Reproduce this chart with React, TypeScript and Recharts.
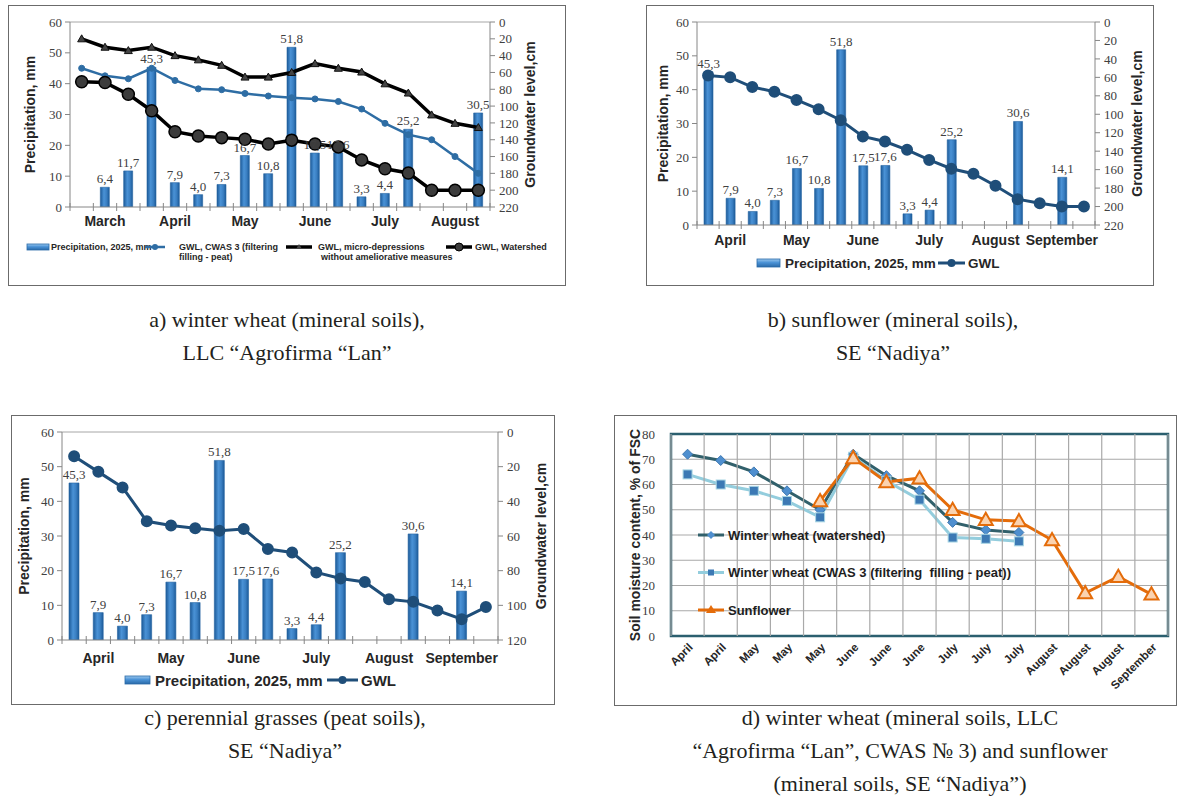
import React from 'react';
import {
  ComposedChart,
  LineChart,
  Bar,
  Line,
  XAxis,
  YAxis,
  ReferenceLine,
  ReferenceArea,
  LabelList,
  CartesianGrid,
  Legend,
} from 'recharts';

const SERIF = '"Liberation Serif", "Times New Roman", serif';
const SANS = '"Liberation Sans", Arial, sans-serif';

// ---------- Panel a: winter wheat, LLC "Agrofirma "Lan" ----------
const monthsA = ['', 'March', '', '', 'April', '', '', 'May', '', '', 'June', '', '', 'July', '', '', 'August', ''];
const precipA = [null, 6.4, 11.7, 45.3, 7.9, 4.0, 7.3, 16.7, 10.8, 51.8, 17.5, 17.6, 3.3, 4.4, 25.2, null, null, 30.5];
const gwlCwasA = [55, 64, 67.5, 55, 69.5, 79.5, 80.5, 85, 88, 90, 91.5, 94.5, 103.5, 120.5, 134, 140, 160, 180];
const gwlMicroA = [20, 30, 34, 30, 40, 45, 51.5, 65.5, 65.5, 60, 49.5, 55, 59.5, 73.5, 84.5, 110.5, 120.5, 125.5];
const gwlWatershedA = [71, 72, 86, 105.5, 130.5, 135.5, 137.5, 139.5, 145, 140.5, 145, 148.5, 164, 174.5, 179.5, 200, 200, 200];
const gwlTicksA = [0, 20, 40, 60, 80, 100, 120, 140, 160, 180, 200, 220];
const precipTicks = [0, 10, 20, 30, 40, 50, 60];

// ---------- Panel b: sunflower, SE "Nadiya" ----------
const monthsB = ['', 'April', '', '', 'May', '', '', 'June', '', '', 'July', '', '', 'August', '', '', 'September', ''];
const precipB = [45.3, 7.9, 4.0, 7.3, 16.7, 10.8, 51.8, 17.5, 17.6, 3.3, 4.4, 25.2, null, null, 30.6, null, 14.1, null];
const gwlB = [58, 60, 70.5, 75.5, 84.5, 94.5, 106.5, 124, 129.5, 138.5, 149.5, 159, 164.5, 177.5, 192, 196.5, 200, 200];
const gwlTicksB = [0, 20, 40, 60, 80, 100, 120, 140, 160, 180, 200, 220];

// ---------- Panel c: perennial grasses, SE "Nadiya" ----------
const monthsC = ['', 'April', '', '', 'May', '', '', 'June', '', '', 'July', '', '', 'August', '', '', 'September', ''];
const precipC = [45.3, 7.9, 4.0, 7.3, 16.7, 10.8, 51.8, 17.5, 17.6, 3.3, 4.4, 25.2, null, null, 30.6, null, 14.1, null];
const gwlC = [14, 23, 32, 51.5, 54, 55.5, 57, 56, 67.5, 69.5, 81, 84.5, 86.5, 96.5, 98, 103, 108, 101];
const gwlTicksC = [0, 20, 40, 60, 80, 100, 120];

// ---------- Panel d: soil moisture ----------
const periodsD = ['April', 'April', 'May', 'May', 'May', 'June', 'June', 'June', 'July', 'July', 'July', 'August', 'August', 'August', 'September'];
const wheatWatershedD = [72, 69.5, 65, 57.5, 50, 72, 63.5, 57.5, 45, 42, 41, null, null, null, null];
const wheatCwasD = [64, 60, 57.5, 53.5, 47, 71, 61.5, 54, 39, 38.5, 37.5, null, null, null, null];
const sunflowerD = [null, null, null, null, 53.5, 70.5, 61, 62.5, 50, 46, 45.5, 38, 17, 23.5, 16.5];
const moistureTicks = [0, 10, 20, 30, 40, 50, 60, 70, 80];

const rowsA = monthsA.map((m, i) => ({ k: i, p: precipA[i], cwas: gwlCwasA[i], micro: gwlMicroA[i], ws: gwlWatershedA[i] }));
const rowsB = monthsB.map((m, i) => ({ k: i, p: precipB[i], gwl: gwlB[i] }));
const rowsC = monthsC.map((m, i) => ({ k: i, p: precipC[i], gwl: gwlC[i] }));
const rowsD = periodsD.map((m, i) => ({ k: i, ww: wheatWatershedD[i], wc: wheatCwasD[i], sf: sunflowerD[i] }));

const fmt = (v: any) => (v == null ? '' : Number(v).toFixed(1).replace('.', ','));

const AXIS = '#868686';

function MonthTick(props: any) {
  const { x, y, payload, labels, band, fontSize, dy } = props;
  const i = Number(payload.value);
  const n = labels.length;
  const lbl = labels[i];
  return (
    <g>
      <line x1={x - band / 2} x2={x - band / 2} y1={y - 4} y2={y + 4} stroke={AXIS} />
      {i === n - 1 ? <line x1={x + band / 2} x2={x + band / 2} y1={y - 4} y2={y + 4} stroke={AXIS} /> : null}
      {lbl ? (
        <text x={x} y={y + dy} textAnchor="middle" dominantBaseline="central" fontFamily={SANS} fontWeight="bold" fontSize={fontSize} fill="#262626">
          {lbl}
        </text>
      ) : null}
    </g>
  );
}

function VTitle(props: any) {
  const vb = props.viewBox || { x: 0, y: 0, width: 0, height: 0 };
  const cx = vb.x + props.dx;
  const cy = vb.y + vb.height / 2;
  return (
    <text x={cx} y={cy} transform={`rotate(-90 ${cx} ${cy})`} textAnchor="middle" dominantBaseline="central" fontFamily={SANS} fontWeight="bold" fontSize={props.fontSize} fill="#262626">
      {props.text}
    </text>
  );
}

function Box({ x, y, w, h }: any) {
  return <div style={{ position: 'absolute', left: x, top: y, width: w, height: h, border: '1.5px solid #6b6b6b', boxSizing: 'border-box' }} />;
}

function BarGrad({ id }: any) {
  return (
    <defs>
      <linearGradient id={id} x1="0" y1="0" x2="1" y2="0">
        <stop offset="0%" stopColor="#1c5a98" />
        <stop offset="40%" stopColor="#4a92d6" />
        <stop offset="70%" stopColor="#3a7fc2" />
        <stop offset="100%" stopColor="#1c5a98" />
      </linearGradient>
    </defs>
  );
}

function triDot(size: number, fill: string, stroke: string, sw: number) {
  return (props: any) => {
    const { cx, cy, index } = props;
    if (cx == null || cy == null || isNaN(cy)) return <g key={`t${index}`} />;
    return (
      <polygon
        key={`t${index}`}
        points={`${cx},${cy - size} ${cx + size},${cy + size * 0.75} ${cx - size},${cy + size * 0.75}`}
        fill={fill}
        stroke={stroke}
        strokeWidth={sw}
      />
    );
  };
}

function diamondDot(props: any) {
  const { cx, cy, index } = props;
  if (cx == null || cy == null || isNaN(cy)) return <g key={`d${index}`} />;
  return <polygon key={`d${index}`} points={`${cx},${cy - 5} ${cx + 5},${cy} ${cx},${cy + 5} ${cx - 5},${cy}`} fill="#4f8fcf" stroke="#3d77b0" strokeWidth={1} />;
}

function squareDot(props: any) {
  const { cx, cy, index } = props;
  if (cx == null || cy == null || isNaN(cy)) return <g key={`s${index}`} />;
  return <rect key={`s${index}`} x={cx - 4.5} y={cy - 4.5} width={9} height={9} fill="#3c79b4" stroke="#a8d6e4" strokeWidth={1} />;
}

function PrecipPanel(p: any) {
  const { box, plot, rows, labels, gwlTicks, gwlMax, monthFont, monthDy, gid, leftDx, rightDx, legend, legendTop } = p;
  const W = box.w;
  const H = box.h;
  const plotW = W - plot.l - plot.r;
  const band = plotW / labels.length;
  const XH = 30;
  return (
    <>
      <Box x={box.x} y={box.y} w={box.w} h={box.h} />
      <div style={{ position: 'absolute', left: box.x, top: box.y, width: W, height: H }}>
        <ComposedChart width={W} height={H} data={rows} margin={{ top: plot.t, right: 0, left: 0, bottom: plot.b - XH }} barCategoryGap={0}>
          <BarGrad id={gid} />
          <XAxis
            dataKey="k"
            type="category"
            height={XH}
            interval={0}
            tickSize={0}
            tickMargin={0}
            axisLine={{ stroke: AXIS }}
            tickLine={false}
            tick={(tp: any) => <MonthTick {...tp} labels={labels} band={band} fontSize={monthFont} dy={monthDy} />}
          />
          <YAxis
            yAxisId="l"
            width={plot.l}
            domain={[0, 60]}
            ticks={precipTicks}
            interval={0}
            allowDataOverflow
            axisLine={{ stroke: AXIS }}
            tickLine={{ stroke: AXIS }}
            tickSize={5}
            tickMargin={3}
            tick={{ fontFamily: SERIF, fontSize: 13, fill: '#404040' }}
            label={<VTitle dx={leftDx} text="Precipitation, mm" fontSize={14} />}
          />
          <YAxis
            yAxisId="r"
            orientation="right"
            width={plot.r}
            reversed
            domain={[0, gwlMax]}
            ticks={gwlTicks}
            interval={0}
            allowDataOverflow
            axisLine={{ stroke: AXIS }}
            tickLine={{ stroke: AXIS }}
            tickSize={5}
            tickMargin={4}
            tick={{ fontFamily: SERIF, fontSize: 13, fill: '#404040' }}
            label={<VTitle dx={rightDx} text="Groundwater level,cm" fontSize={14} />}
          />
          <ReferenceLine yAxisId="l" y={60} stroke="#a6a6a6" strokeWidth={1} />
          <Bar yAxisId="l" dataKey="p" barSize={p.barSize} fill={`url(#${gid})`} stroke="#2564a3" strokeWidth={0.6} isAnimationActive={false}>
            <LabelList dataKey="p" position="top" offset={4} formatter={fmt} style={{ fontFamily: SERIF, fontSize: 13, fill: '#404040' }} />
          </Bar>
          {p.children}
          <Legend
            layout="vertical"
            align="center"
            verticalAlign="middle"
            wrapperStyle={{ position: 'absolute', left: 0, top: legendTop, width: W, height: 30 }}
            content={() => legend}
          />
        </ComposedChart>
      </div>
    </>
  );
}

function LegendA() {
  const ty = 10;
  const t2 = 20;
  const ts = { fontFamily: SANS, fontWeight: 'bold' as const, fontSize: 9, fill: '#262626' };
  return (
    <svg width={558} height={30} style={{ display: 'block' }}>
      <defs>
        <linearGradient id="gAvL" x1="0" y1="0" x2="0" y2="1">
          <stop offset="0%" stopColor="#9cc8ee" />
          <stop offset="45%" stopColor="#4a92d6" />
          <stop offset="100%" stopColor="#2a6aa8" />
        </linearGradient>
      </defs>
      <rect x={19} y={ty - 3} width={22} height={6} fill="url(#gAvL)" stroke="#2a6aa8" strokeWidth={0.8} />
      <text x={43} y={ty} dominantBaseline="central" {...ts}>Precipitation, 2025, mm</text>
      <line x1={137} x2={157} y1={ty} y2={ty} stroke="#2e6da4" strokeWidth={2.5} />
      <circle cx={147} cy={ty} r={3} fill="#2e6da4" />
      <text x={171} y={ty} dominantBaseline="central" {...ts}>GWL, CWAS 3 (filtering</text>
      <text x={171} y={t2} dominantBaseline="central" {...ts}>filling - peat)</text>
      <line x1={278} x2={304} y1={ty} y2={ty} stroke="#000" strokeWidth={3.5} />
      <polygon points={`291,${ty - 3} 294,${ty + 2} 288,${ty + 2}`} fill="#444" />
      <text x={310} y={ty} dominantBaseline="central" {...ts}>GWL, micro-depressions</text>
      <text x={313} y={t2} dominantBaseline="central" {...ts}>without ameliorative measures</text>
      <line x1={438} x2={464} y1={ty} y2={ty} stroke="#000" strokeWidth={3.5} />
      <circle cx={451} cy={ty} r={4} fill="#3c3c3c" stroke="#000" />
      <text x={467} y={ty} dominantBaseline="central" {...ts}>GWL, Watershed</text>
    </svg>
  );
}

function LegendBC({ W, iconX, textX, gwlX, gwlTextX, fontSize, gid }: any) {
  const ty = 13;
  const ts = { fontFamily: SANS, fontWeight: 'bold' as const, fontSize, fill: '#262626' };
  return (
    <svg width={W} height={30} style={{ display: 'block' }}>
      <defs>
        <linearGradient id={gid} x1="0" y1="0" x2="0" y2="1">
          <stop offset="0%" stopColor="#9cc8ee" />
          <stop offset="45%" stopColor="#4a92d6" />
          <stop offset="100%" stopColor="#2a6aa8" />
        </linearGradient>
      </defs>
      <rect x={iconX} y={ty - 4} width={textX - iconX - 5} height={8} fill={`url(#${gid})`} stroke="#2a6aa8" strokeWidth={0.8} />
      <text x={textX} y={ty} dominantBaseline="central" {...ts}>Precipitation, 2025, mm</text>
      <line x1={gwlX} x2={gwlTextX - 3} y1={ty} y2={ty} stroke="#1f4e79" strokeWidth={3} />
      <circle cx={(gwlX + gwlTextX - 3) / 2} cy={ty} r={4} fill="#1f4e79" />
      <text x={gwlTextX} y={ty} dominantBaseline="central" {...ts}>GWL</text>
    </svg>
  );
}

function LegendD() {
  const ts = { fontFamily: SANS, fontWeight: 'bold' as const, fontSize: 13, fill: '#1e1e1e' };
  const ys = [120, 157.5, 195];
  return (
    <svg width={420} height={215} style={{ display: 'block' }}>
      <line x1={84} x2={110} y1={ys[0]} y2={ys[0]} stroke="#31606b" strokeWidth={3} />
      <polygon points={`97,${ys[0] - 4} 101,${ys[0]} 97,${ys[0] + 4} 93,${ys[0]}`} fill="#4f8fcf" />
      <text x={114} y={ys[0]} dominantBaseline="central" {...ts}>Winter wheat (watershed)</text>
      <line x1={84} x2={110} y1={ys[1]} y2={ys[1]} stroke="#93cddd" strokeWidth={3} />
      <rect x={94} y={ys[1] - 3} width={6} height={6} fill="#3c79b4" />
      <text x={114} y={ys[1]} dominantBaseline="central" {...ts} style={{ whiteSpace: 'pre' }}>{'Winter wheat (CWAS 3 (filtering  filling - peat))'}</text>
      <line x1={84} x2={110} y1={ys[2]} y2={ys[2]} stroke="#e46c0a" strokeWidth={3} />
      <polygon points={`97,${ys[2] - 5} 102,${ys[2] + 3} 92,${ys[2] + 3}`} fill="#e46c0a" />
      <text x={114} y={ys[2]} dominantBaseline="central" {...ts}>Sunflower</text>
    </svg>
  );
}

const boxD = { x: 614, y: 415, w: 563, h: 291 };
const plotD = { l: 57, r: 9, t: 19, b: 70 };
const plotHD = boxD.h - plotD.t - plotD.b;
const bandD = (boxD.w - plotD.l - plotD.r) / periodsD.length;

// x tick for panel d: rotated label plus vertical grid line on the category boundary
function RotTick(props: any) {
  const { x, y, payload } = props;
  const i = Number(payload.value);
  const ax = x + 6;
  const ay = y + 12;
  return (
    <g>
      <line x1={x - bandD / 2} x2={x - bandD / 2} y1={y} y2={y - plotHD} stroke="#a9a9a9" strokeWidth={1.2} />
      {i === periodsD.length - 1 ? <line x1={x + bandD / 2} x2={x + bandD / 2} y1={y} y2={y - plotHD} stroke="#a9a9a9" strokeWidth={1.2} /> : null}
      <text x={ax} y={ay} transform={`rotate(-45 ${ax} ${ay})`} textAnchor="end" fontFamily={SANS} fontWeight="bold" fontSize={11.5} fill="#262626">
        {periodsD[i]}
      </text>
    </g>
  );
}

function PanelD() {
  const box = boxD;
  const plot = plotD;
  const XH = 40;
  return (
    <>
      <Box x={box.x} y={box.y} w={box.w} h={box.h} />
      <div style={{ position: 'absolute', left: box.x, top: box.y, width: box.w, height: box.h, overflow: 'visible' }}>
        <LineChart width={box.w} height={box.h} data={rowsD} margin={{ top: plot.t, right: plot.r, left: 0, bottom: plot.b - XH }} style={{ overflow: 'visible' }}>
          <CartesianGrid stroke="#a9a9a9" strokeWidth={1.2} vertical={false} />
          <XAxis
            dataKey="k"
            type="category"
            scale="band"
            height={XH}
            interval={0}
            tickSize={0}
            tickMargin={0}
            axisLine={false}
            tickLine={false}
            tick={(tp: any) => <RotTick {...tp} />}
          />
          <YAxis
            width={plot.l}
            domain={[0, 80]}
            ticks={moistureTicks}
            interval={0}
            axisLine={false}
            tickLine={false}
            tickMargin={10}
            tick={{ fontFamily: SERIF, fontSize: 13, fill: '#404040' }}
            label={<VTitle dx={21} text="Soil moisture content, % of FSC" fontSize={14} />}
          />
          <ReferenceArea y1={0} y2={80} fill="none" stroke="#2b5f6f" strokeWidth={2.5} ifOverflow="visible" />
          <Line dataKey="ww" stroke="#31606b" strokeWidth={3} dot={diamondDot} isAnimationActive={false} />
          <Line dataKey="wc" stroke="#93cddd" strokeWidth={3} dot={squareDot} isAnimationActive={false} />
          <Line dataKey="sf" stroke="#e46c0a" strokeWidth={3} dot={triDot(7, '#fbd3b0', '#e46c0a', 2)} isAnimationActive={false} />
          <Legend
            layout="vertical"
            align="center"
            verticalAlign="middle"
            wrapperStyle={{ position: 'absolute', left: 0, top: 0, width: 420, height: 215 }}
            content={() => <LegendD />}
          />
        </LineChart>
      </div>
    </>
  );
}

const capStyle: React.CSSProperties = {
  position: 'absolute',
  textAlign: 'center',
  fontFamily: SERIF,
  fontSize: 22,
  lineHeight: '33px',
  color: '#231f20',
  whiteSpace: 'nowrap',
};

export default function App() {
  return (
    <div style={{ position: 'absolute', left: 0, top: 0, width: 1179, height: 798, background: '#fff', overflow: 'hidden' }}>
      <PrecipPanel
        box={{ x: 8, y: 5, w: 558, h: 281 }}
        plot={{ l: 62, r: 76, t: 17, b: 79 }}
        rows={rowsA}
        labels={monthsA}
        gwlTicks={gwlTicksA}
        gwlMax={220}
        monthFont={14}
        monthDy={14}
        gid="gA"
        leftDx={22}
        rightDx={40}
        barSize={9}
        legendTop={232}
        legend={<LegendA />}
      >
        <Line yAxisId="r" dataKey="micro" stroke="#000" strokeWidth={3.5} dot={triDot(4, '#444', '#111', 1)} isAnimationActive={false} />
        <Line yAxisId="r" dataKey="cwas" stroke="#2e6da4" strokeWidth={2.5} dot={{ r: 3, fill: '#2e6da4', stroke: '#2e6da4', strokeWidth: 1 }} isAnimationActive={false} />
        <Line yAxisId="r" dataKey="ws" stroke="#000" strokeWidth={3.5} dot={{ r: 6, fill: '#3c3c3c', stroke: '#000', strokeWidth: 1.5 }} isAnimationActive={false} />
      </PrecipPanel>

      <PrecipPanel
        box={{ x: 646, y: 5, w: 508, h: 281 }}
        plot={{ l: 51, r: 59, t: 17, b: 61 }}
        rows={rowsB}
        labels={monthsB}
        gwlTicks={gwlTicksB}
        gwlMax={220}
        monthFont={14}
        monthDy={15}
        gid="gB"
        leftDx={17}
        rightDx={42}
        barSize={9}
        legendTop={245}
        legend={<LegendBC W={508} iconX={111} textX={139} gwlX={292} gwlTextX={322} fontSize={13.5} gid="gBvL" />}
      >
        <Line yAxisId="r" dataKey="gwl" stroke="#1f4e79" strokeWidth={3} dot={{ r: 4.5, fill: '#1f4e79', stroke: '#1f4e79' }} isAnimationActive={false} />
      </PrecipPanel>

      <PrecipPanel
        box={{ x: 11, y: 415, w: 544, h: 290 }}
        plot={{ l: 51, r: 57, t: 17, b: 65 }}
        rows={rowsC}
        labels={monthsC}
        gwlTicks={gwlTicksC}
        gwlMax={120}
        monthFont={14}
        monthDy={18}
        gid="gC"
        leftDx={13}
        rightDx={43}
        barSize={10}
        legendTop={252}
        legend={<LegendBC W={544} iconX={114} textX={144} gwlX={316} gwlTextX={350} fontSize={15} gid="gCvL" />}
      >
        <Line yAxisId="r" dataKey="gwl" stroke="#1f4e79" strokeWidth={3} dot={{ r: 4.5, fill: '#1f4e79', stroke: '#1f4e79' }} isAnimationActive={false} />
      </PrecipPanel>

      <PanelD />

      <div style={{ ...capStyle, left: 87, width: 400, top: 303 }}>
        a) winter wheat (mineral soils),
        <br />
        LLC “Agrofirma “Lan”
      </div>
      <div style={{ ...capStyle, left: 693, width: 400, top: 303 }}>
        b) sunflower (mineral soils),
        <br />
        SE “Nadiya”
      </div>
      <div style={{ ...capStyle, left: 85, width: 400, top: 701 }}>
        c) perennial grasses (peat soils),
        <br />
        SE “Nadiya”
      </div>
      <div style={{ ...capStyle, left: 650, width: 500, top: 701 }}>
        d) winter wheat (mineral soils, LLC
        <br />
        “Agrofirma “Lan”, CWAS № 3) and sunflower
        <br />
        (mineral soils, SE “Nadiya”)
      </div>
    </div>
  );
}
